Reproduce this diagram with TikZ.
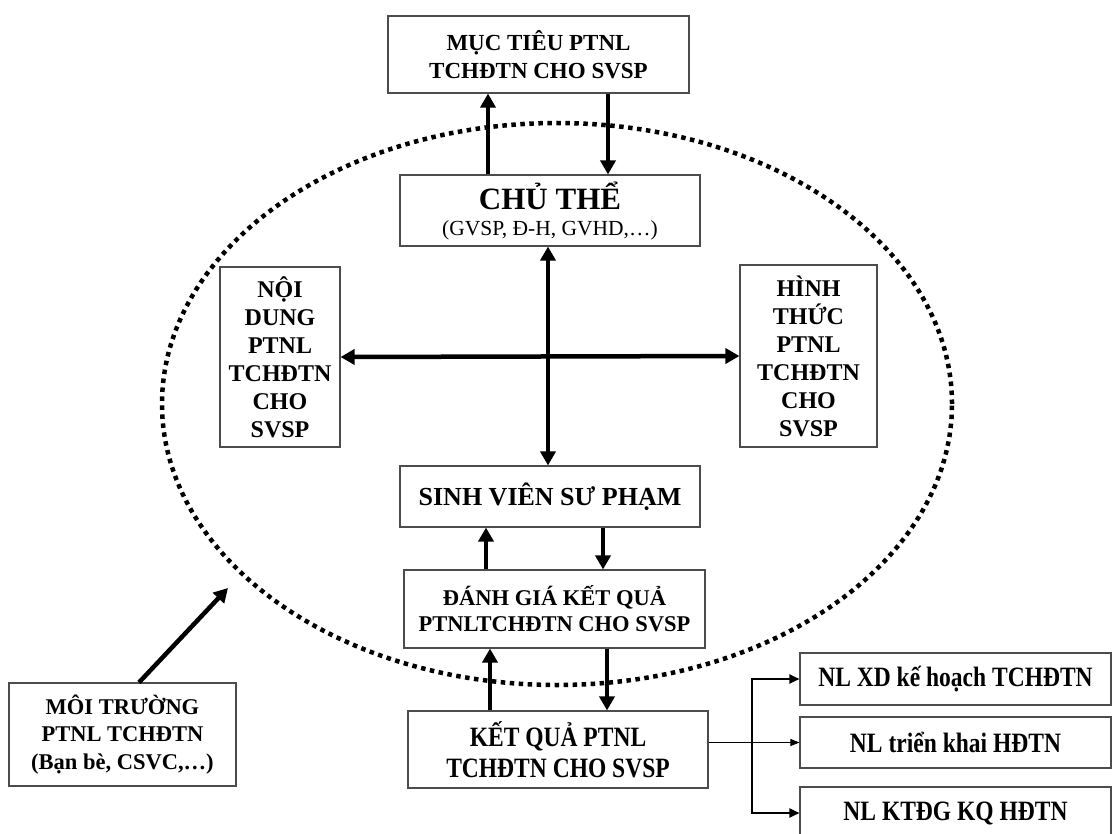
\documentclass[tikz,border=0pt]{standalone}
\usepackage{fontspec}
\setmainfont{Liberation Serif}
\newfontfamily\narrowserif[FakeStretch=0.84]{Liberation Serif}
\usetikzlibrary{arrows.meta}
\begin{document}
\begin{tikzpicture}[x=1pt,y=-1pt,
  box/.style={draw=black!70, line width=1.1pt, fill=white, align=center, inner sep=0pt},
  bold/.style={font=\fontsize{23}{28}\selectfont\bfseries},
  narrow/.style={font=\narrowserif\fontsize{28}{31}\selectfont\bfseries},
  bigarr/.style={line width=4.5pt, -{Triangle[length=14pt,width=15pt]}},
  botharr/.style={line width=4.5pt, {Triangle[length=14pt,width=15pt]}-{Triangle[length=14pt,width=15pt]}},
  thinarr/.style={line width=1pt, -{Triangle[length=9pt,width=7pt]}},
  brkarr/.style={line width=2pt, line join=miter, {Triangle[length=10pt,width=9pt]}-{Triangle[length=10pt,width=9pt]}},
  ring/.style={line width=4.5pt, dash pattern=on 4.5pt off 4.5pt}
]
\useasboundingbox (0,0) rectangle (1115,834);
\fill[white] (0,0) rectangle (1115,834);

% the surrounding environment boundary
\draw[ring] (557,404) ellipse [x radius=395pt, y radius=281pt];

% main blocks
\node[box, bold, minimum width=301pt, minimum height=77pt] (muc) at (538.5,54.5)
  {MỤC TIÊU PTNL\\TCHĐTN CHO SVSP};
\node[box, minimum width=300pt, minimum height=71pt, font=\fontsize{21.5}{26}\selectfont] (chu) at (550,210.5)
  {{\fontsize{31}{31}\selectfont\bfseries CHỦ THỂ}\\(GVSP, Đ-H, GVHD,…)};
\node[box, font=\fontsize{24}{28}\selectfont\bfseries, minimum width=120pt, minimum height=180pt] (nd) at (280,357)
  {NỘI\\DUNG\\PTNL\\TCHĐTN\\CHO\\SVSP};
\node[box, font=\fontsize{24}{28}\selectfont\bfseries, minimum width=137pt, minimum height=182pt] (ht) at (808.5,356)
  {HÌNH\\THỨC\\PTNL\\TCHĐTN\\CHO\\SVSP};
\node[box, minimum width=300pt, minimum height=61pt, font=\fontsize{26}{30}\selectfont\bfseries] (sv) at (550,496.5)
  {SINH VIÊN SƯ PHẠM};
\node[box, minimum width=301pt, minimum height=78pt, font=\fontsize{22.5}{26}\selectfont\bfseries] (dg) at (554.5,609)
  {ĐÁNH GIÁ KẾT QUẢ\\PTNLTCHĐTN CHO SVSP};
\node[box, narrow, minimum width=300pt, minimum height=77pt] (kq) at (558,749.5)
  {KẾT QUẢ PTNL\\TCHĐTN CHO SVSP};
\node[box, minimum width=227pt, minimum height=103pt, font=\fontsize{22.5}{27.5}\selectfont\bfseries] (mt) at (122.5,734.5)
  {MÔI TRƯỜNG\\PTNL TCHĐTN\\(Bạn bè, CSVC,…)};

% competence outcomes
\node[box, narrow, minimum width=311pt, minimum height=52pt] (xd) at (955.5,679) {NL XD kế hoạch TCHĐTN};
\node[box, narrow, minimum width=311pt, minimum height=51pt] (tk) at (955.5,742.5) {NL triển khai HĐTN};
\node[box, narrow, minimum width=311pt, minimum height=52pt] (kt) at (955.5,813) {NL KTĐG KQ HĐTN};

% links between the blocks
\draw[bigarr] ([xshift=-62pt]chu.north) -- ([xshift=-62pt]chu.north |- muc.south);
\draw[bigarr] ([xshift=58pt]chu.north |- muc.south) -- ([xshift=58pt]chu.north);
\draw[botharr] ([xshift=-2pt]chu.south) -- ([xshift=-2pt]sv.north);
\draw[botharr] (nd.east) -- (ht.west);
\draw[bigarr] ([xshift=-64pt]sv.south |- dg.north) -- ([xshift=-64pt]sv.south);
\draw[bigarr] ([xshift=53pt]sv.south) -- ([xshift=53pt]sv.south |- dg.north);
\draw[bigarr] ([xshift=-64.5pt]dg.south |- kq.north) -- ([xshift=-64.5pt]dg.south);
\draw[bigarr] ([xshift=52.5pt]dg.south) -- ([xshift=52.5pt]dg.south |- kq.north);

\coordinate (envtip) at (228,588);
\draw[bigarr] ([xshift=16.5pt]mt.north) -- (envtip);

% branching to the three competences
\coordinate (split) at (752,742.5);
\draw[thinarr] (kq.east |- tk.west) -- (tk.west);
\draw[brkarr] (xd.west) -- (xd.west -| split) -- (kt.west -| split) -- (kt.west);
\end{tikzpicture}
\end{document}
